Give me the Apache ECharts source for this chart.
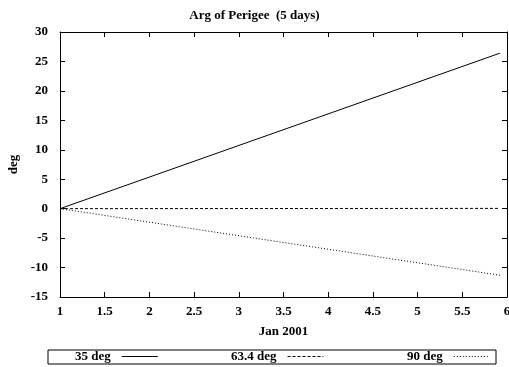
<!DOCTYPE html>
<html><head><meta charset="utf-8">
<script src="https://cdn.jsdelivr.net/npm/echarts@6/dist/echarts.min.js"></script>
<style>html,body{margin:0;padding:0;background:#fff}#c{width:509px;height:367px}</style>
</head><body><div id="c"></div>
<script>
const titleText = 'Arg of Perigee  (5 days)';
const xName = 'Jan 2001';
const yName = 'deg';
const seriesNames = ['35 deg', '63.4 deg', '90 deg'];
const xValues = [1.0, 5.92];
const deg35 = [0.0, 26.4];
const deg634 = [0.0, 0.05];
const deg90 = [0.0, -11.3];

const font = 'Liberation Serif';
const fs = 13;
const chart = echarts.init(document.getElementById('c'), null, {renderer: 'canvas'});
const mk = arr => xValues.map((x, i) => [x, arr[i]]);
const lineSeries = (name, data, type) => ({
  name, type: 'line', data, symbol: 'none', showSymbol: false, animation: false,
  lineStyle: {color: '#000', width: 1, type},
  itemStyle: {color: '#000'}
});
const legendAt = (name, left) => ({
  data: [name], left, top: 350, orient: 'horizontal', align: 'right',
  itemWidth: 36, itemHeight: 14, itemGap: 0, padding: 0,
  itemStyle: {opacity: 0, borderWidth: 0},
  lineStyle: {width: 1},
  textStyle: {fontFamily: font, fontWeight: 'bold', fontSize: fs, color: '#000', padding: [0, 6, 0, 0]},
  selectedMode: false
});
const label = {fontFamily: font, fontWeight: 'bold', fontSize: fs, color: '#000'};
chart.setOption({
  animation: false,
  title: {text: titleText, left: 'center', top: 4,
    textStyle: {fontFamily: font, fontWeight: 'bold', fontSize: fs, color: '#000'}},
  grid: {left: 60, right: 2, top: 32, bottom: 70, containLabel: false, outerBoundsMode: 'none'},
  legend: [
    legendAt(seriesNames[0], 75),
    legendAt(seriesNames[1], 231),
    legendAt(seriesNames[2], 407)
  ],
  graphic: [{type: 'rect', shape: {x: 48, y: 350, width: 448, height: 14},
    style: {fill: 'none', stroke: '#000', lineWidth: 1}, silent: true, z: 100}],
  xAxis: [{
    type: 'value', min: 1, max: 6, interval: 0.5,
    name: xName, nameLocation: 'middle', nameGap: 28, nameTextStyle: label,
    axisLine: {show: true, onZero: false, lineStyle: {color: '#000', width: 1}},
    axisTick: {show: true, inside: true, length: 5, lineStyle: {color: '#000'}},
    axisLabel: Object.assign({margin: 8, showMaxLabel: true, hideOverlap: false}, label),
    splitLine: {show: false}
  }, {
    type: 'value', position: 'top', min: 1, max: 6, interval: 0.5,
    axisLine: {show: true, onZero: false, lineStyle: {color: '#000', width: 1}},
    axisTick: {show: true, inside: true, length: 5, lineStyle: {color: '#000'}},
    axisLabel: {show: false}, splitLine: {show: false}
  }],
  yAxis: [{
    type: 'value', min: -15, max: 30, interval: 5,
    name: yName, nameLocation: 'middle', nameGap: 40, nameRotate: 90, nameTextStyle: label,
    axisLine: {show: true, onZero: false, lineStyle: {color: '#000', width: 1}},
    axisTick: {show: true, inside: true, length: 5, lineStyle: {color: '#000'}},
    axisLabel: Object.assign({margin: 12}, label),
    splitLine: {show: false}
  }, {
    type: 'value', position: 'right', min: -15, max: 30, interval: 5,
    axisLine: {show: true, onZero: false, lineStyle: {color: '#000', width: 1}},
    axisTick: {show: true, inside: true, length: 5, lineStyle: {color: '#000'}},
    axisLabel: {show: false}, splitLine: {show: false}
  }],
  series: [
    lineSeries(seriesNames[0], mk(deg35), 'solid'),
    lineSeries(seriesNames[1], mk(deg634), [3, 2]),
    lineSeries(seriesNames[2], mk(deg90), [1, 2])
  ]
});
</script></body></html>
